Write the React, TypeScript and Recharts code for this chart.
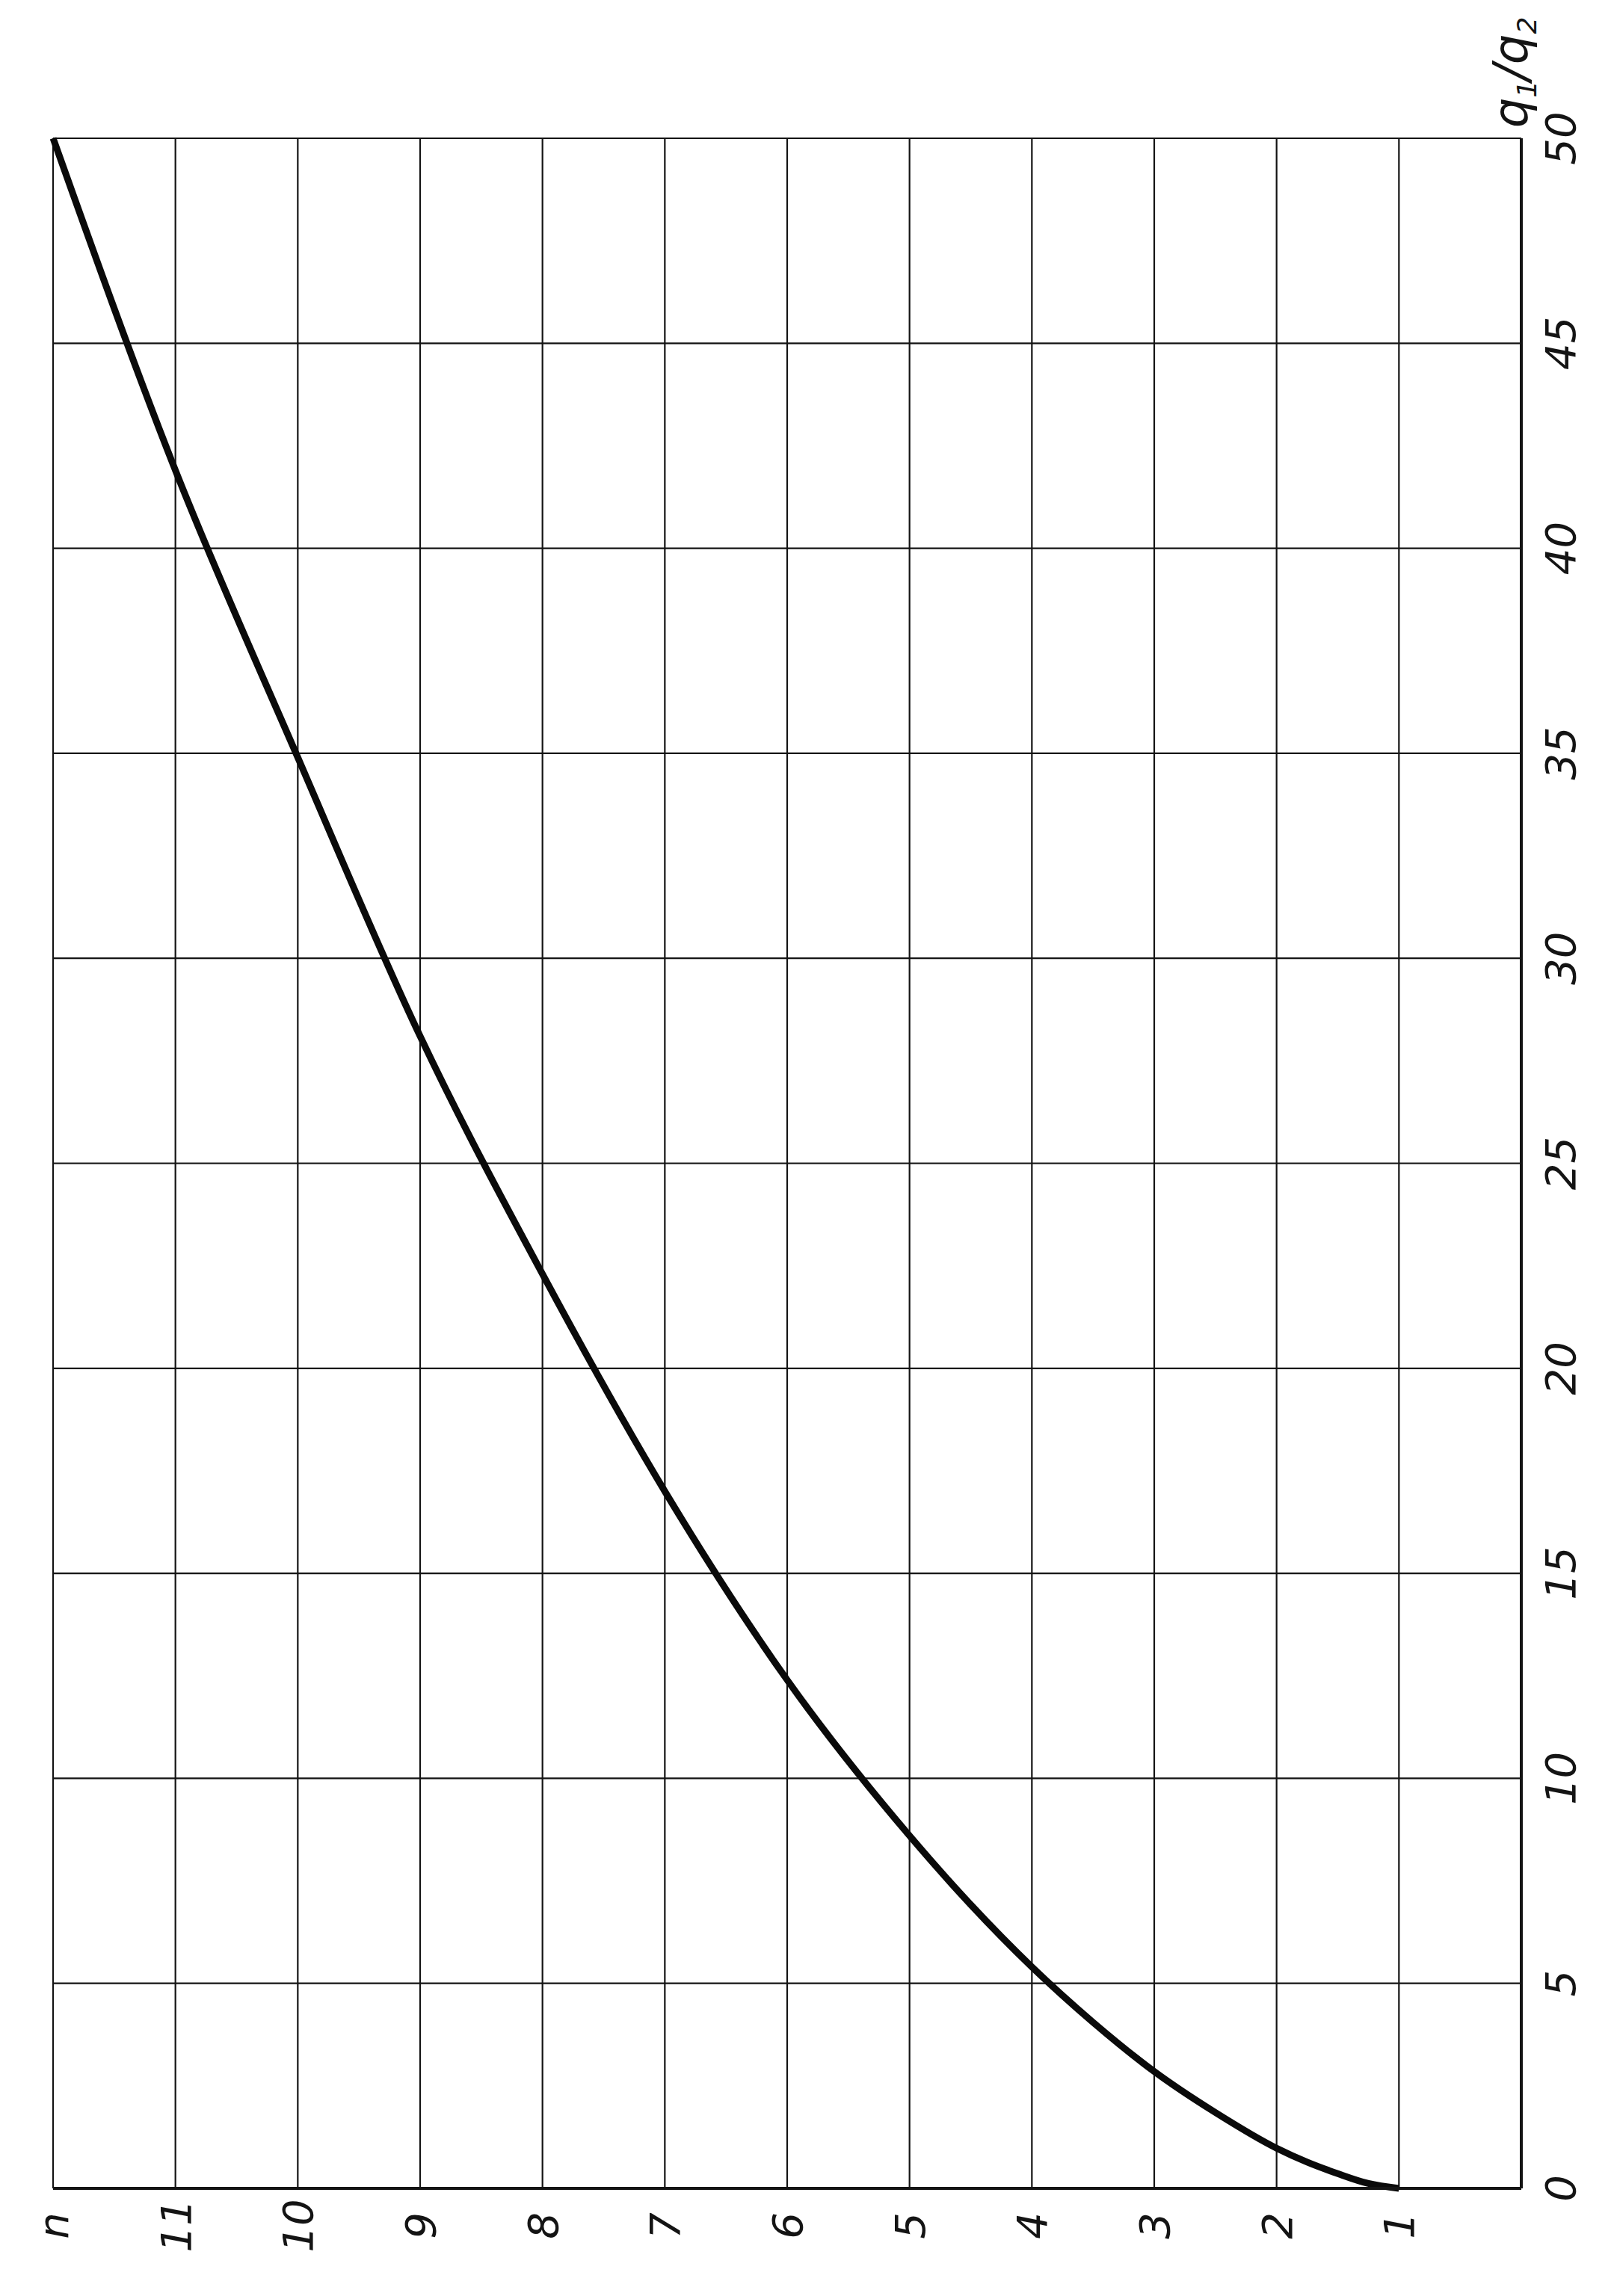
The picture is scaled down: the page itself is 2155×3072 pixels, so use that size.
import * as React from "react";
import { CartesianGrid, Line, LineChart, XAxis, YAxis } from "recharts";

// n (horizontal, reversed) against q1/q2 (vertical, right side)
const nValues = [1, 1.25, 1.5, 1.75, 2, 2.5, 3, 3.5, 4, 4.5, 5, 6, 7, 8, 9, 10, 11, 12];
const qRatio = [0, 0.12, 0.36, 0.64, 0.98, 1.85, 2.85, 4.05, 5.4, 6.92, 8.6, 12.4, 17.0, 22.3, 28.1, 34.9, 41.9, 50];

const nTicks = [0, 1, 2, 3, 4, 5, 6, 7, 8, 9, 10, 11, 12];
const nTickLabels = ["", "1", "2", "3", "4", "5", "6", "7", "8", "9", "10", "11", "n"];
const qTicks = [0, 5, 10, 15, 20, 25, 30, 35, 40, 45, 50];

const INK = "#141414";
const FONT = "'DejaVu Sans', sans-serif";

const chartData = nValues.map((n, i) => ({ n, q: qRatio[i] }));

function BottomTick(props: any) {
  const { x = 0, y = 0, index = 0 } = props;
  const label = nTickLabels[index] ?? "";
  if (!label) return null;
  const bx = x + 20;
  const by = y + 48;
  return (
    <text
      x={bx}
      y={by}
      transform={`rotate(-90, ${bx}, ${by})`}
      textAnchor="middle"
      fontSize={56}
      fontStyle="italic"
      fontFamily={FONT}
      fill={INK}
    >
      {label}
    </text>
  );
}

function RightTick(props: any) {
  const { x = 0, y = 0, payload } = props;
  const bx = x + 70;
  return (
    <text
      x={bx}
      y={y}
      transform={`rotate(-90, ${bx}, ${y})`}
      textAnchor="middle"
      fontSize={56}
      fontStyle="italic"
      fontFamily={FONT}
      fill={INK}
    >
      {String(payload?.value)}
    </text>
  );
}

function QTitle(props: any) {
  const vb = props.viewBox ?? { x: 2035, y: 185 };
  const bx = vb.x + 8;
  const by = vb.y - 88;
  return (
    <text
      x={bx}
      y={by}
      transform={`rotate(-90, ${bx}, ${by})`}
      textAnchor="middle"
      fontSize={64}
      fontStyle="italic"
      fontFamily={FONT}
      fill={INK}
    >
      q
      <tspan dy={12} fontSize={36}>
        1
      </tspan>
      <tspan dy={-12}>/q</tspan>
      <tspan dy={12} fontSize={36}>
        2
      </tspan>
    </text>
  );
}

export default function App() {
  return (
    <div
      style={{
        position: "absolute",
        left: 0,
        top: 0,
        width: 2155,
        height: 3072,
        background: "#ffffff",
      }}
    >
      <LineChart
        width={2155}
        height={3072}
        data={chartData}
        margin={{ top: 185, right: 40, bottom: 64, left: 71 }}
      >
        <CartesianGrid stroke={INK} strokeWidth={2.2} />
        <XAxis
          type="number"
          dataKey="n"
          domain={[0, 12]}
          ticks={nTicks}
          interval={0}
          reversed
          height={80}
          tickSize={0}
          tickLine={false}
          axisLine={{ stroke: INK, strokeWidth: 4 }}
          tick={<BottomTick />}
        />
        <YAxis
          type="number"
          orientation="right"
          domain={[0, 50]}
          ticks={qTicks}
          interval={0}
          width={80}
          tickSize={0}
          tickLine={false}
          axisLine={{ stroke: INK, strokeWidth: 4 }}
          tick={<RightTick />}
          label={{ position: "top", content: (p: any) => <QTitle {...p} /> }}
        />
        <Line
          type="monotone"
          dataKey="q"
          stroke="#0a0a0a"
          strokeWidth={9}
          dot={false}
          isAnimationActive={false}
        />
      </LineChart>
    </div>
  );
}
